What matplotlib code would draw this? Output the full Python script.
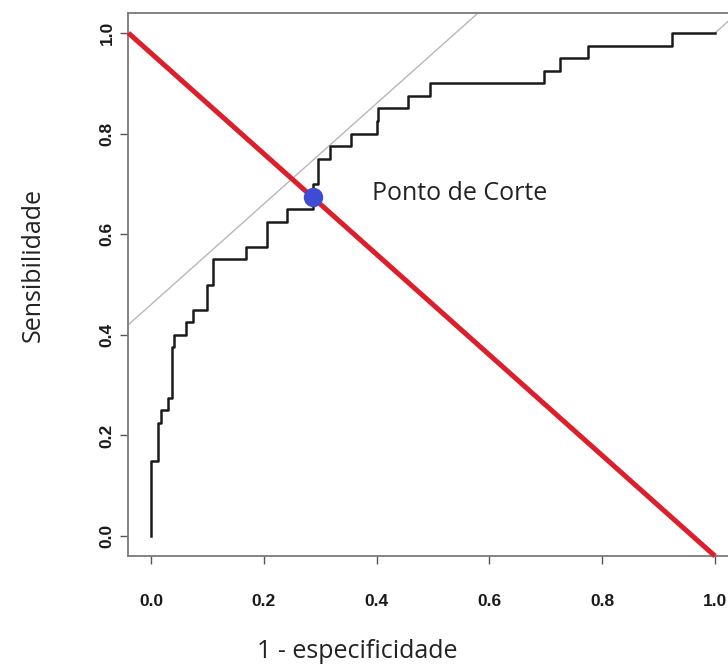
import matplotlib
matplotlib.use("Agg")
import matplotlib.pyplot as plt

# ROC curve points (1 - especificidade, sensibilidade), drawn as steps
fpr = [0.0, 0.0, 0.013, 0.018, 0.031, 0.037, 0.041, 0.062, 0.075, 0.100, 0.110,
       0.168, 0.205, 0.242, 0.287, 0.297, 0.317, 0.355, 0.400, 0.403, 0.456,
       0.494, 0.697, 0.725, 0.774, 0.924, 1.0]
tpr = [0.0, 0.150, 0.225, 0.250, 0.275, 0.375, 0.400, 0.425, 0.450, 0.500, 0.550,
       0.575, 0.625, 0.650, 0.700, 0.750, 0.775, 0.800, 0.825, 0.850, 0.875,
       0.900, 0.925, 0.950, 0.975, 1.000, 1.000]

# red cut line
red_x = [-0.04, 1.0]
red_y = [1.0, -0.04]

# grey tangent line
tan_x = [-0.04, 0.58]
tan_y = [0.42, 1.04]

# grey reference diagonal (visible part)
diag_x = [1.0, 1.04]
diag_y = [1.0, 1.04]

# cut point
cut_x = [0.287]
cut_y = [0.674]

ticks = [0.0, 0.2, 0.4, 0.6, 0.8, 1.0]
tick_labels = ["0.0", "0.2", "0.4", "0.6", "0.8", "1.0"]

W, H = 728, 666
fig = plt.figure(figsize=(W / 100, H / 100), dpi=100)
fig.patch.set_facecolor("white")

left_px, right_px = 128.4, 737.6
bot_px, top_px = 556.1, 12.9
ax = fig.add_axes([left_px / W, (H - bot_px) / H, (right_px - left_px) / W, (bot_px - top_px) / H])
ax.set_xlim(-0.04, 1.04)
ax.set_ylim(-0.04, 1.04)

ax.plot(tan_x, tan_y, color="#b8b8b8", lw=1.0, solid_capstyle="butt", zorder=1)
ax.plot(diag_x, diag_y, color="#b8b8b8", lw=1.0, zorder=1)
ax.plot(fpr, tpr, drawstyle="steps-post", color="#1a1a1a", lw=1.8, zorder=2)
ax.plot(red_x, red_y, color="#dc1f2b", lw=3.6, solid_capstyle="butt", zorder=3, clip_on=False)
ax.plot(cut_x, cut_y, "o", color="#3d4cd3", markersize=13, zorder=4)

ax.text(0.392, 0.68, "Ponto de Corte", fontsize=18, family="Open Sans",
        color="#222222", va="center", ha="left")

for s in ax.spines.values():
    s.set_color("#7a7a7a")
    s.set_linewidth(1.3)

ax.set_xticks(ticks)
ax.set_xticklabels(tick_labels)
ax.set_yticks(ticks)
ax.set_yticklabels(tick_labels, rotation=90, va="center")
ax.tick_params(axis="both", direction="out", length=6, width=1.0, color="#555555",
               labelsize=12.5)
ax.tick_params(axis="x", pad=21)
ax.tick_params(axis="y", pad=4)
for lab in ax.get_xticklabels() + ax.get_yticklabels():
    lab.set_fontweight("bold")
    lab.set_family("Liberation Sans")
    lab.set_color("#1a1a1a")

fig.text(357 / W, 1 - 652 / H, "1 - especificidade", fontsize=18, family="Open Sans",
         color="#222222", ha="center", va="center")
fig.text(33 / W, 1 - 265 / H, "Sensibilidade", fontsize=18, family="Open Sans",
         color="#222222", ha="center", va="center", rotation=90)

fig.savefig("out.png", dpi=100)
